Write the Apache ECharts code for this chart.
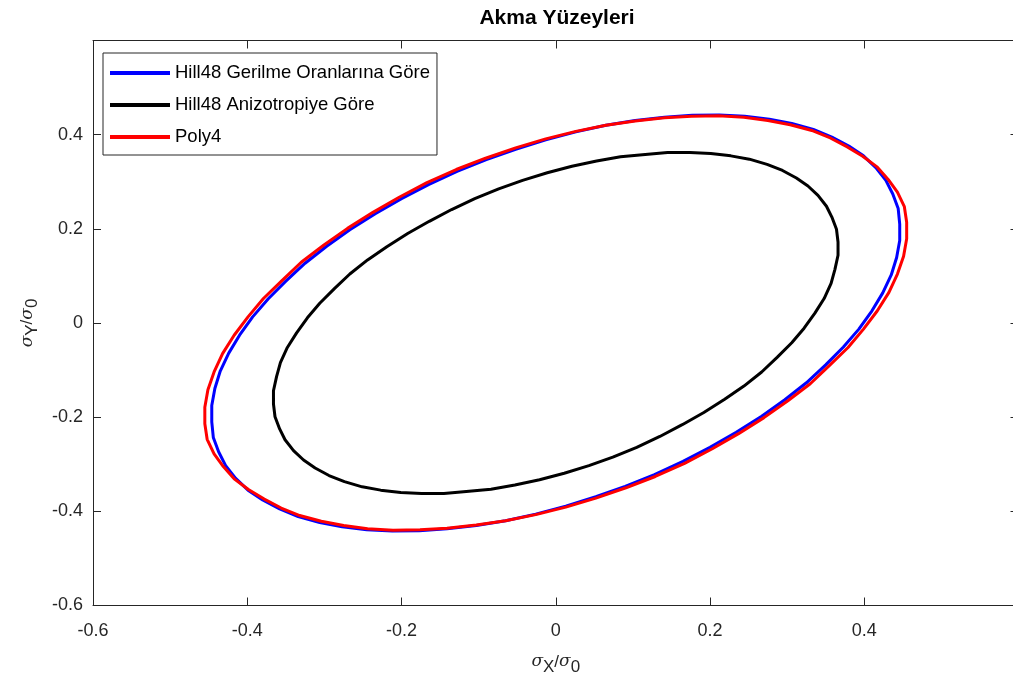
<!DOCTYPE html>
<html>
<head>
<meta charset="utf-8">
<title>Akma Yüzeyleri</title>
<script src="https://cdn.jsdelivr.net/npm/echarts@6/dist/echarts.min.js"></script>
<style>
  html, body { margin: 0; padding: 0; background: #ffffff; overflow: hidden; }
  #chart { width: 1025px; height: 700px; }
</style>
</head>
<body>
<div id="chart"></div>
<script>
// Yield loci in the normalised stress plane (sigma_X/sigma_0, sigma_Y/sigma_0)
const hill48RatioX = [-0.234,-0.267,-0.297,-0.325,-0.350,-0.373,-0.393,-0.410,-0.424,-0.435,-0.442,-0.446,-0.446,-0.444,-0.437,-0.428,-0.415,-0.399,-0.380,
  -0.358,-0.334,-0.306,-0.277,-0.245,-0.212,-0.177,-0.141,-0.103,-0.065,-0.026,0.013,0.052,0.090,0.128,0.165,0.200,0.234,
  0.267,0.297,0.325,0.350,0.373,0.393,0.410,0.424,0.435,0.442,0.446,0.446,0.444,0.437,0.428,0.415,0.399,
  0.380,0.358,0.334,0.306,0.277,0.245,0.212,0.177,0.141,0.103,0.065,0.026,-0.013,-0.052,-0.090,-0.128,-0.165,-0.200,-0.234];
const hill48RatioY = [0.232,0.198,0.163,0.127,0.089,0.051,0.013,-0.026,-0.064,-0.102,-0.139,-0.175,-0.210,-0.243,-0.274,-0.303,-0.330,-0.355,-0.376,
  -0.395,-0.411,-0.424,-0.433,-0.439,-0.442,-0.441,-0.437,-0.430,-0.420,-0.406,-0.389,-0.369,-0.347,-0.322,-0.294,-0.264,-0.232,
  -0.198,-0.163,-0.127,-0.089,-0.051,-0.013,0.026,0.064,0.102,0.139,0.175,0.210,0.243,0.274,0.303,0.330,0.355,
  0.376,0.395,0.411,0.424,0.433,0.439,0.442,0.441,0.437,0.430,0.420,0.406,0.389,0.369,0.347,0.322,0.294,0.264,0.232];

const hill48AnisoX = [-0.192,-0.219,-0.244,-0.267,-0.287,-0.306,-0.322,-0.336,-0.348,-0.357,-0.362,-0.366,-0.366,-0.364,-0.358,-0.351,-0.340,-0.327,-0.312,
  -0.294,-0.274,-0.251,-0.227,-0.201,-0.174,-0.145,-0.116,-0.084,-0.053,-0.021,0.011,0.043,0.074,0.105,0.135,0.164,0.192,
  0.219,0.244,0.267,0.287,0.306,0.322,0.336,0.348,0.357,0.362,0.366,0.366,0.364,0.358,0.351,0.340,0.327,
  0.312,0.294,0.274,0.251,0.227,0.201,0.174,0.145,0.116,0.084,0.053,0.021,-0.011,-0.043,-0.074,-0.105,-0.135,-0.164,-0.192];
const hill48AnisoY = [0.190,0.162,0.134,0.104,0.073,0.042,0.011,-0.021,-0.052,-0.084,-0.114,-0.144,-0.172,-0.199,-0.225,-0.248,-0.271,-0.291,-0.308,
  -0.324,-0.337,-0.348,-0.355,-0.360,-0.362,-0.362,-0.358,-0.353,-0.344,-0.333,-0.319,-0.303,-0.285,-0.264,-0.241,-0.216,-0.190,
  -0.162,-0.134,-0.104,-0.073,-0.042,-0.011,0.021,0.052,0.084,0.114,0.144,0.172,0.199,0.225,0.248,0.271,0.291,
  0.308,0.324,0.337,0.348,0.355,0.360,0.362,0.362,0.358,0.353,0.344,0.333,0.319,0.303,0.285,0.264,0.241,0.216,0.190];

const poly4X = [-0.237,-0.270,-0.301,-0.330,-0.355,-0.379,-0.399,-0.417,-0.432,-0.443,-0.451,-0.455,-0.455,-0.452,-0.443,-0.431,-0.417,-0.398,-0.378,
  -0.356,-0.332,-0.304,-0.275,-0.244,-0.211,-0.176,-0.141,-0.103,-0.065,-0.026,0.013,0.052,0.091,0.129,0.167,0.203,0.237,
  0.270,0.301,0.330,0.355,0.379,0.399,0.417,0.432,0.443,0.451,0.455,0.455,0.452,0.443,0.431,0.417,0.398,
  0.378,0.356,0.332,0.304,0.275,0.244,0.211,0.176,0.141,0.103,0.065,0.026,-0.013,-0.052,-0.091,-0.129,-0.167,-0.203,-0.237];
const poly4Y = [0.235,0.201,0.165,0.129,0.090,0.052,0.013,-0.026,-0.065,-0.104,-0.142,-0.179,-0.214,-0.247,-0.278,-0.305,-0.331,-0.354,-0.374,
  -0.393,-0.409,-0.421,-0.430,-0.437,-0.440,-0.439,-0.436,-0.429,-0.420,-0.407,-0.391,-0.372,-0.350,-0.326,-0.298,-0.267,-0.235,
  -0.201,-0.165,-0.129,-0.090,-0.052,-0.013,0.026,0.065,0.104,0.142,0.179,0.214,0.247,0.278,0.305,0.331,0.354,
  0.374,0.393,0.409,0.421,0.430,0.437,0.440,0.439,0.436,0.429,0.420,0.407,0.391,0.372,0.350,0.326,0.298,0.267,0.235];

const seriesNames = ['Hill48 Gerilme Oranlarına Göre', 'Hill48 Anizotropiye Göre', 'Poly4'];
const seriesColors = ['#0000ff', '#000000', '#ff0000'];
const axisTicks = [-0.6, -0.4, -0.2, 0, 0.2, 0.4, 0.6];

const zip = (xs, ys) => xs.map((x, i) => [x, ys[i]]);

const FONT = "'Liberation Sans', Arial, Helvetica, sans-serif";
const AX = '#262626';

const chart = echarts.init(document.getElementById('chart'), null, { renderer: 'canvas' });

// the 0.6 end of each axis carries a tick but no label
const tickFmt = v => (Math.abs(v - 0.6) < 1e-9 ? '' : String(Math.round(v * 10) / 10));

const sigmaRich = {
  s: { fontFamily: 'DejaVu Serif, serif', fontStyle: 'italic', fontSize: 17, color: AX, verticalAlign: 'top', lineHeight: 22 },
  sl: { fontFamily: FONT, fontSize: 17, color: AX, verticalAlign: 'top', lineHeight: 22 },
  sub: { fontFamily: FONT, fontSize: 17, color: AX, verticalAlign: 'bottom', lineHeight: 18, padding: [12, 0, 0, 0] }
};

const lineSeries = (name, xs, ys, color, z) => ({
  name: name,
  type: 'line',
  data: zip(xs, ys),
  showSymbol: false,
  symbol: 'none',
  smooth: false,
  clip: true,
  lineStyle: { color: color, width: 3, join: 'round', cap: 'round' },
  itemStyle: { color: color },
  z: z,
  animation: false
});

const baseAxis = {
  type: 'value',
  min: axisTicks[0],
  max: axisTicks[axisTicks.length - 1],
  interval: 0.2,
  splitLine: { show: false },
  axisLine: { show: true, onZero: false, lineStyle: { color: AX, width: 1 } },
  axisTick: { show: true, inside: true, length: 8, lineStyle: { color: AX, width: 1 } }
};

chart.setOption({
  backgroundColor: '#ffffff',
  animation: false,
  title: {
    text: 'Akma Yüzeyleri',
    left: 552,
    textAlign: 'center',
    top: 3,
    textStyle: { fontFamily: FONT, fontWeight: 'bold', fontSize: 21, color: '#000000' }
  },
  legend: {
    left: 103,
    top: 53,
    orient: 'vertical',
    backgroundColor: '#ffffff',
    borderColor: AX,
    borderWidth: 1,
    borderRadius: 0,
    padding: [10, 7, 8, 7],
    itemGap: 12,
    itemWidth: 60,
    itemHeight: 4,
    icon: 'rect',
    textStyle: { fontFamily: FONT, fontSize: 18.5, color: '#000000', lineHeight: 20 },
    data: seriesNames
  },
  grid: { left: 93, right: 6.5, top: 40.5, bottom: 94.5, containLabel: false },
  xAxis: [
    Object.assign({}, baseAxis, {
      position: 'bottom',
      name: '{s|σ}{sub|X}{sl|/}{s|σ}{sub|0}',
      nameLocation: 'middle',
      nameGap: 48,
      nameTextStyle: { rich: sigmaRich },
      axisLabel: { margin: 17, fontFamily: FONT, fontSize: 18, color: AX, formatter: tickFmt }
    }),
    Object.assign({}, baseAxis, {
      position: 'top',
      axisLabel: { show: false }
    })
  ],
  yAxis: [
    Object.assign({}, baseAxis, {
      position: 'left',
      name: '{s|σ}{sub|Y}{sl|/}{s|σ}{sub|0}',
      nameLocation: 'middle',
      nameGap: 52,
      nameRotate: 90,
      nameTextStyle: { rich: sigmaRich },
      axisLabel: { margin: 10, fontFamily: FONT, fontSize: 18, color: AX, formatter: tickFmt }
    }),
    Object.assign({}, baseAxis, {
      position: 'right',
      axisLabel: { show: false }
    })
  ],
  series: [
    lineSeries(seriesNames[0], hill48RatioX, hill48RatioY, seriesColors[0], 2),
    lineSeries(seriesNames[1], hill48AnisoX, hill48AnisoY, seriesColors[1], 3),
    lineSeries(seriesNames[2], poly4X, poly4Y, seriesColors[2], 4)
  ]
});
</script>
</body>
</html>
